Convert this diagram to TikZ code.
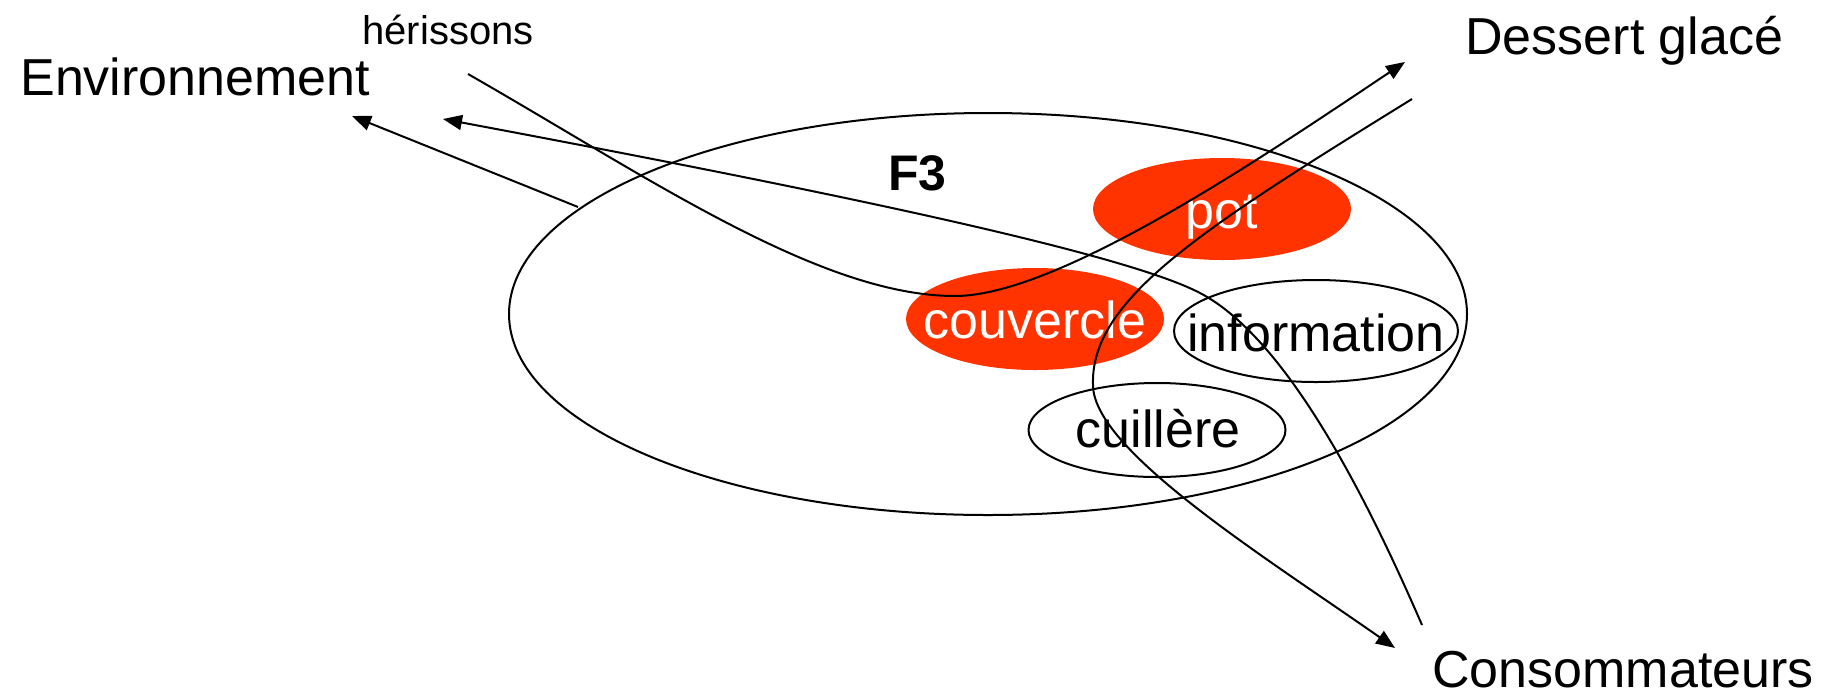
\documentclass[tikz,border=0pt]{standalone}
\usepackage{fontspec}
\setmainfont{Liberation Sans}
\usetikzlibrary{arrows.meta,shapes.geometric}

\definecolor{partred}{RGB}{255,51,0}

\begin{document}
\begin{tikzpicture}[x=1pt, y=-1pt, line width=2pt,
    every node/.style={font=\fontsize{52}{60}\selectfont},
    flow/.style={-{Triangle[length=19pt,width=15pt]}},
    redpart/.style={ellipse, fill=partred, inner sep=0pt},
    plainpart/.style={ellipse, draw, inner sep=0pt},
    partname/.style={anchor=base}]

    \useasboundingbox (0,0) rectangle (1825,697);

    % Surroundings
    \node[anchor=base west] (env) at (16,95) {Environnement};
    \node[anchor=base west, font=\fontsize{40}{48}\selectfont] (heriss) at (358,44) {hérissons};
    \node[anchor=base west] (dessert) at (1461,54) {Dessert glacé};
    \node[anchor=base west] (conso) at (1428,687) {Consommateurs};

    % Function F3
    \node[plainpart, minimum width=958pt, minimum height=402pt] (zone) at (988,314) {};
    \node[anchor=base west, font=\fontsize{50}{60}\selectfont\bfseries] (F3) at (884,190) {F3};

    % Parts
    \node[redpart, minimum width=258pt, minimum height=102pt] (pot) at (1222,209) {};
    \node[redpart, minimum width=258pt, minimum height=102pt] (couv) at (1035,319) {};
    \node[plainpart, minimum width=284pt, minimum height=102pt] (info) at (1316,331) {};
    \node[plainpart, minimum width=257pt, minimum height=94pt] (cuil) at (1157,430) {};

    \node[partname, text=white] (potname) at (1222,228) {pot};
    \node[partname, text=white] (couvname) at (1035,338) {couvercle};
    \node[partname] (infoname) at (1316,351) {information};
    \node[partname] (cuilname) at (1158,447) {cuillère};

    % Flow end points
    \coordinate (envOut) at (578,207);
    \coordinate (envIn) at (352,116);
    \coordinate (consOut) at (1422,625);
    \coordinate (envIn2) at (443,119);
    \coordinate (herissOut) at (468,74);
    \coordinate (dessertIn) at (1405,62);
    \coordinate (dessertOut) at (1412,99);
    \coordinate (consIn) at (1395,648);

    % Flows
    \draw[flow] (envOut) -- (envIn);
    \draw[flow] (consOut) .. controls (1372,510) and (1290,340) .. (1200,293)
        .. controls (1120,251) and (800,186) .. (envIn2);
    \draw[flow] (herissOut) .. controls (648,177) and (820,296) .. (955,296)
        .. controls (1060,296) and (1270,152) .. (dessertIn);
    \draw[flow] (dessertOut) .. controls (1200,230) and (1090,300) .. (1093,385)
        .. controls (1093,450) and (1265,557) .. (consIn);

\end{tikzpicture}
\end{document}
